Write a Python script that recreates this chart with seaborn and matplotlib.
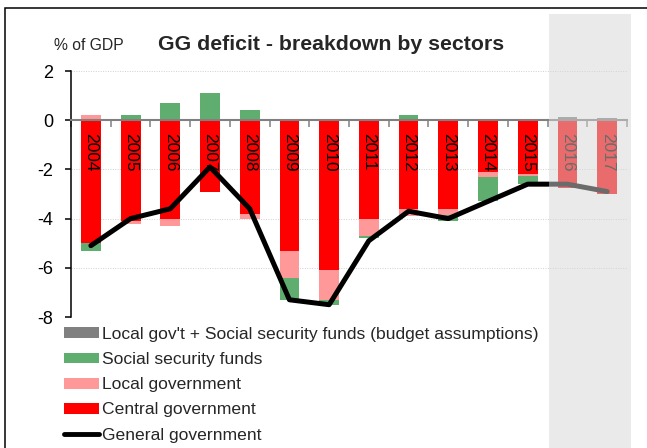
import numpy as np
import matplotlib
matplotlib.use("Agg")
import matplotlib.pyplot as plt
from matplotlib import font_manager as fm
from matplotlib.patches import Rectangle, Patch
from matplotlib.lines import Line2D
import seaborn as sns

# ---------------- data ----------------
years = ["2004", "2005", "2006", "2007", "2008", "2009", "2010",
         "2011", "2012", "2013", "2014", "2015", "2016", "2017"]
central = [-5.0, -4.1, -4.0, -2.9, -3.8, -5.3, -6.1, -4.0, -3.6, -3.6, -2.1, -2.2, -2.75, -3.0]
local = [0.2, -0.1, -0.3, 0.0, -0.2, -1.1, -1.2, -0.7, -0.3, -0.25, -0.2, -0.05, 0.0, 0.0]
ssf = [-0.3, 0.2, 0.7, 1.1, 0.4, -0.9, -0.2, -0.1, 0.2, -0.25, -1.0, -0.35, 0.0, 0.0]
budget = [0, 0, 0, 0, 0, 0, 0, 0, 0, 0, 0, 0, 0.15, 0.1]
general = [-5.1, -4.0, -3.6, -1.9, -3.6, -7.3, -7.5, -4.9, -3.7, -4.0, -3.3, -2.6, -2.6, -2.9]
yticks = [2, 0, -2, -4, -6, -8]

labels = {
    "budget": "Local gov't + Social security funds (budget assumptions)",
    "ssf": "Social security funds",
    "local": "Local government",
    "central": "Central government",
    "gg": "General government",
}
title = "GG deficit - breakdown by sectors"
ylab = "% of GDP"

RED, PINK, GREEN, GRAY = "#ff0000", "#ff9999", "#5fae70", "#808080"

# ---------------- style ----------------
sns.set_theme(style="white")
names = {f.name for f in fm.fontManager.ttflist}
plt.rcParams["font.family"] = ["Liberation Sans", "DejaVu Sans"]
narrow = "Liberation Sans Narrow" if "Liberation Sans Narrow" in names else None

W, H = 647, 448
fig = plt.figure(figsize=(W / 100, H / 100), dpi=100)
ax = fig.add_axes([71 / W, 1 - 317 / H, (627 - 71) / W, (317 - 71) / H])

n = len(years)
pos_base = np.zeros(n)
neg_base = np.zeros(n)
for vals, col in [(central, RED), (local, PINK), (ssf, GREEN), (budget, GRAY)]:
    v = np.asarray(vals, dtype=float)
    bottom = np.where(v >= 0, pos_base, neg_base)
    sns.barplot(x=years, y=v, order=years, bottom=bottom, color=col,
                saturation=1, width=0.5, errorbar=None, linewidth=0,
                ax=ax, zorder=2)
    pos_base += np.clip(v, 0, None)
    neg_base += np.clip(v, None, 0)

sns.lineplot(x=np.arange(n), y=general, color="black", linewidth=3.6,
             ax=ax, zorder=4, sort=False)

# year labels inside bars
yfont = dict(family=narrow, size=16) if narrow else dict(size=12.5)
for i, yr in enumerate(years):
    ax.annotate(yr, xy=(i, 0), xytext=(0, -13), textcoords="offset pixels",
                rotation=-90, ha="center", va="top", color="black",
                zorder=5, **yfont)

# axes
ax.set_xlim(-0.5, n - 0.5)
ax.set_ylim(-8, 2)
ax.set_yticks(yticks)
ax.set_yticklabels([str(t) for t in yticks], fontsize=13)
ax.set_xticks(np.arange(n + 1) - 0.5)
ax.set_xticklabels([])
ax.set_xlabel("")
ax.set_ylabel("")
for s in ["top", "right"]:
    ax.spines[s].set_visible(False)
ax.spines["left"].set_color("black")
ax.spines["left"].set_linewidth(1.1)
ax.spines["bottom"].set_position(("data", 0))
ax.spines["bottom"].set_color("#808080")
ax.spines["bottom"].set_linewidth(1.5)
ax.spines["bottom"].set_zorder(3)
ax.tick_params(axis="y", direction="out", length=4.5, width=1.1, color="black",
               pad=8.5, left=True, labelcolor="black")
ax.tick_params(axis="x", direction="out", length=5, width=1.1, color="#808080",
               bottom=True)
ax.yaxis.grid(True, linestyle=(0, (1, 1.5)), color="#d0d0d0", linewidth=0.7)
ax.set_axisbelow(True)

# titles
fig.text(54 / W, 1 - 45 / H, ylab, fontsize=11.3, ha="left", va="center")
fig.text(331 / W, 1 - 44 / H, title, fontsize=15.3, fontweight="bold",
         ha="center", va="center")

# legend
handles = [
    Patch(facecolor=GRAY, edgecolor="none", label=labels["budget"]),
    Patch(facecolor=GREEN, edgecolor="none", label=labels["ssf"]),
    Patch(facecolor=PINK, edgecolor="none", label=labels["local"]),
    Patch(facecolor=RED, edgecolor="none", label=labels["central"]),
    Line2D([], [], color="black", linewidth=3.5, label=labels["gg"]),
]
fig.legend(handles=handles, loc="upper left", bbox_to_anchor=(64 / W, 1 - 327 / H),
           frameon=False, fontsize=12.6, handlelength=2.0, handleheight=0.57,
           handletextpad=0.2, labelspacing=0.58, borderpad=0, borderaxespad=0)

# projection band (overlay) and outer frame
fig.add_artist(Rectangle((548.5 / W, 0), (631 - 548.5) / W, 1 - 14 / H,
                         transform=fig.transFigure, facecolor="#d7d7d7",
                         edgecolor="none", alpha=0.5, zorder=10))
fig.add_artist(Rectangle((5 / W, -0.1), 1.2, 1.1 - 8 / H,
                         transform=fig.transFigure, facecolor="none",
                         edgecolor="black", linewidth=1.1, zorder=11))

fig.savefig("out.png", dpi=100)
